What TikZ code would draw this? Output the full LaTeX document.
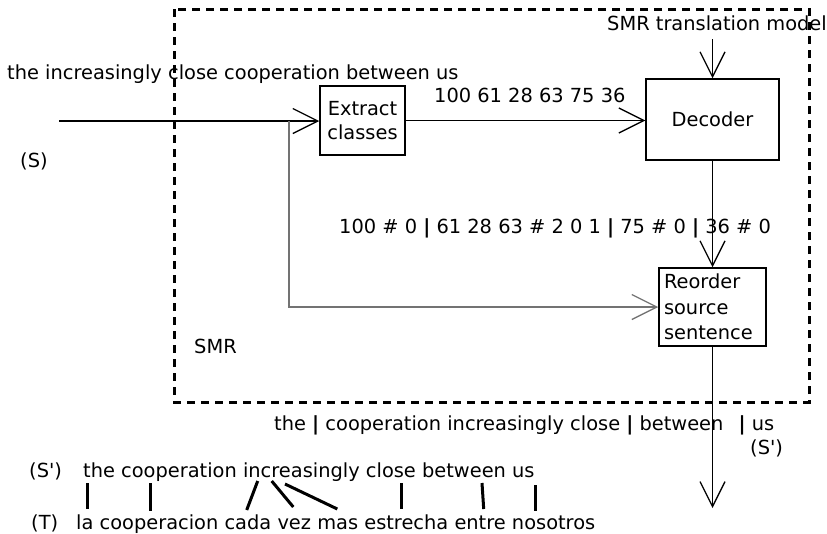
\documentclass[tikz,border=0pt]{standalone}
\usepackage{fontspec}
\setmainfont{DejaVu Sans}[Ligatures=TeXOff]
\usetikzlibrary{arrows.meta}
\tikzset{
  lbl/.style={inner sep=0pt, anchor=base west, font=\fontsize{19.4}{24}\selectfont},
  box/.style={draw, line width=1.5pt, inner sep=0pt, font=\fontsize{19.4}{24}\selectfont},
  conn/.style={line width=1.3pt, -{Straight Barb[length=25pt,width=25pt,line width=1.3pt]}},
  grayconn/.style={conn, draw=black!55},
  alignline/.style={line width=3pt},
  smrframe/.style={line width=3pt, dash pattern=on 8pt off 6pt},
}
\begin{document}
\begin{tikzpicture}[x=1pt,y=-1pt]
\useasboundingbox (0,0) rectangle (827,533);
% frame
\draw[smrframe] (174,9) rectangle (809,402);
% boxes
\node[box, minimum width=85pt, minimum height=69pt, align=center] (extract) at (362.5,120.5) {Extract\\classes};
\node[box, minimum width=133pt, minimum height=81pt] (decoder) at (712.5,119.5) {Decoder};
\node[box, minimum width=107pt, minimum height=78pt, align=left, text width=97pt,
      font=\fontsize{19.4}{25.5}\selectfont] (reorder) at (712.5,307) {Reorder\\source\\sentence};
% labels
\node[lbl] (src) at (7,79) {the increasingly close cooperation between us};
\node[lbl] (S) at (20,167) {(S)};
\node[lbl] (classes) at (434,102) {100 61 28 63 75 36};
\node[lbl] (model) at (607,30) {SMR translation model};
\node[lbl] (reordering) at (339,233) {100 \# 0 \textbf{|} 61 28 63 \# 2 0 1 \textbf{|} 75 \# 0 \textbf{|} 36 \# 0};
\node[lbl] (smr) at (194,353) {SMR};
\node[lbl] (segs) at (274,430) {the \textbf{|} cooperation increasingly close \textbf{|} between\hspace{9pt} \textbf{|} us};
\node[lbl] (Sp) at (750,454) {(S')};
\node[lbl] (Sp2) at (29,477) {(S')};
\node[lbl] (srcre) at (83,477) {the cooperation increasingly close between us};
\node[lbl] (T) at (31,529) {(T)};
\node[lbl] (tgt) at (76,529) {la cooperacion cada vez mas estrecha entre nosotros};
% coordinates
\coordinate (in) at (59,121);
\coordinate (branch) at (289,121);
\coordinate (modeltop) at (712.5,39);
\coordinate (out) at (712.5,508);
% connectors
\draw[conn] (in) -- (extract.west |- in);
\draw[conn] (extract.east) -- (extract.east -| decoder.west);
\draw[grayconn] (branch) |- (reorder.west);
\draw[conn] (modeltop) -- (decoder.north);
\draw[conn] (decoder.south) -- (reorder.north);
\draw[conn] (reorder.south) -- (out);
% word alignment
\draw[alignline] (87.3,483) -- (87.3,509);
\draw[alignline] (150.7,483) -- (150.7,511);
\draw[alignline] (257.7,481) -- (246.7,510);
\draw[alignline] (271.7,481) -- (293.3,507);
\draw[alignline] (285,484) -- (337.3,509);
\draw[alignline] (401,483) -- (401,509);
\draw[alignline] (482,483) -- (483.7,509);
\draw[alignline] (535,485) -- (535,511);
\end{tikzpicture}
\end{document}
